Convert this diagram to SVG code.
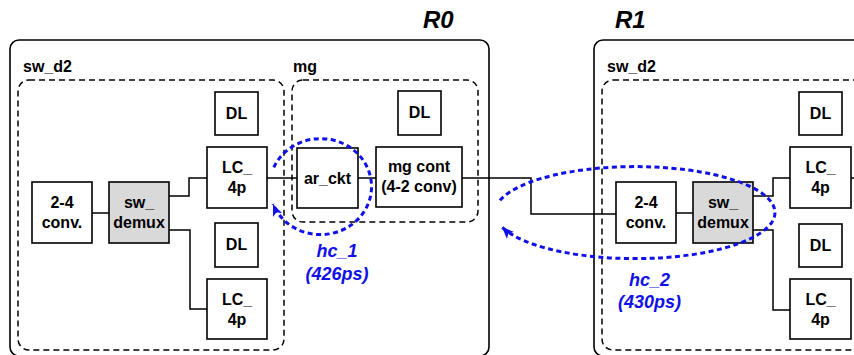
<svg xmlns="http://www.w3.org/2000/svg" width="854" height="355" viewBox="0 0 854 355">
<style>
.outer{fill:none;stroke:#000;stroke-width:1.6}
.dash{fill:none;stroke:#000;stroke-width:1.5;stroke-dasharray:6 4}
.box{fill:#fff;stroke:#000;stroke-width:1.6}
.gray{fill:#d9d9d9;stroke:#000;stroke-width:1.6}
.wire{fill:none;stroke:#000;stroke-width:1.5}
.t{font-family:"Liberation Sans",Arial,sans-serif;font-weight:bold;font-size:16px;fill:#000;text-anchor:middle}
.lbl{font-family:"Liberation Sans",Arial,sans-serif;font-weight:bold;font-size:16px;fill:#000}
.reg{font-family:"Liberation Sans",Arial,sans-serif;font-weight:bold;font-style:italic;font-size:24px;fill:#000}
.hc{fill:none;stroke:#1010e8;stroke-width:3;stroke-dasharray:5 3.5}
.hct{font-family:"Liberation Sans",Arial,sans-serif;font-weight:bold;font-style:italic;font-size:18px;fill:#1010e8;text-anchor:middle}
</style>
<defs>
<marker id="ah" markerUnits="userSpaceOnUse" markerWidth="14" markerHeight="12" refX="12" refY="5" orient="auto">
<path d="M0,0 L12,5 L0,10 L3,5 z" fill="#1010e8"/>
</marker>
</defs>

<g id="containers">
<text class="reg" x="423" y="28">R0</text>
<text class="reg" x="615" y="28">R1</text>
<rect id="R0" class="outer" x="10" y="40" width="479" height="316" rx="9"/>
<rect id="R1" class="outer" x="594" y="40" width="290" height="316" rx="9"/>
<text class="lbl" x="23" y="72">sw_d2</text>
<rect id="sw_d2_R0" class="dash" x="18" y="80" width="266" height="270" rx="11"/>
<text class="lbl" x="293" y="72">mg</text>
<rect id="mg_box" class="dash" x="292" y="80" width="186" height="142" rx="11"/>
<text class="lbl" x="607" y="72">sw_d2</text>
<rect id="sw_d2_R1" class="dash" x="602" y="80" width="280" height="270" rx="11"/>
</g>

<g id="connectors">
<path class="wire" d="M92,213 H109"/>
<path class="wire" d="M169,196 H189 V178 H207"/>
<path class="wire" d="M169,230 H190 V309 H207"/>
<path class="wire" d="M267,178 H297"/>
<path class="wire" d="M358,178 H376"/>
<path class="wire" d="M462,178 H531 V214 H616"/>
<path class="wire" d="M676,213 H693"/>
<path class="wire" d="M753,196 H773 V178 H790"/>
<path class="wire" d="M753,230 H773 V310 H790"/>
<path class="wire" d="M851,178 H854"/>
</g>

<g id="r0_conv"><rect class="box" x="32" y="182" width="60" height="61"/><text class="t" x="62" y="208">2-4</text><text class="t" x="62" y="228">conv.</text></g>
<g id="r0_demux"><rect class="gray" x="109" y="182" width="60" height="61"/><text class="t" x="139" y="208">sw_</text><text class="t" x="139" y="228">demux</text></g>
<g id="r0_dl1"><rect class="box" x="215" y="92" width="43" height="43"/><text class="t" x="236.5" y="119">DL</text></g>
<g id="r0_lc1"><rect class="box" x="207" y="147" width="60" height="61"/><text class="t" x="237" y="173">LC_</text><text class="t" x="237" y="193">4p</text></g>
<g id="r0_dl2"><rect class="box" x="215" y="223" width="43" height="44"/><text class="t" x="236.5" y="250">DL</text></g>
<g id="r0_lc2"><rect class="box" x="207" y="279" width="60" height="60"/><text class="t" x="237" y="305">LC_</text><text class="t" x="237" y="325">4p</text></g>
<g id="mg_dl"><rect class="box" x="398" y="91" width="43" height="44"/><text class="t" x="419.5" y="118">DL</text></g>
<g id="ar_ckt"><rect class="box" x="297" y="148" width="61" height="60"/><text class="t" x="327.5" y="184">ar_ckt</text></g>
<g id="mg_cont"><rect class="box" x="376" y="147" width="86" height="60"/><text class="t" x="419" y="172">mg cont</text><text class="t" x="419" y="192">(4-2 conv)</text></g>

<g id="r1_conv"><rect class="box" x="616" y="182" width="60" height="61"/><text class="t" x="646" y="208">2-4</text><text class="t" x="646" y="228">conv.</text></g>
<g id="r1_demux"><rect class="gray" x="693" y="182" width="60" height="61"/><text class="t" x="723" y="208">sw_</text><text class="t" x="723" y="228">demux</text></g>
<g id="r1_dl1"><rect class="box" x="799" y="92" width="43" height="43"/><text class="t" x="820.5" y="119">DL</text></g>
<g id="r1_lc1"><rect class="box" x="790" y="147" width="61" height="61"/><text class="t" x="820.5" y="173">LC_</text><text class="t" x="820.5" y="193">4p</text></g>
<g id="r1_dl2"><rect class="box" x="799" y="224" width="43" height="43"/><text class="t" x="820.5" y="251">DL</text></g>
<g id="r1_lc2"><rect class="box" x="790" y="279" width="61" height="60"/><text class="t" x="820.5" y="305">LC_</text><text class="t" x="820.5" y="325">4p</text></g>

<g id="hc_1">
<path class="hc" d="M273.8,167.4 A51,48 0 1 1 273,204" marker-end="url(#ah)"/>
<text class="hct" x="337" y="257">hc_1</text>
<text class="hct" x="337" y="280">(426ps)</text>
</g>
<g id="hc_2">
<path class="hc" d="M500,200.4 A140,46 0 1 1 502,227" marker-end="url(#ah)"/>
<text class="hct" x="649.5" y="286">hc_2</text>
<text class="hct" x="649.5" y="308">(430ps)</text>
</g>
</svg>
